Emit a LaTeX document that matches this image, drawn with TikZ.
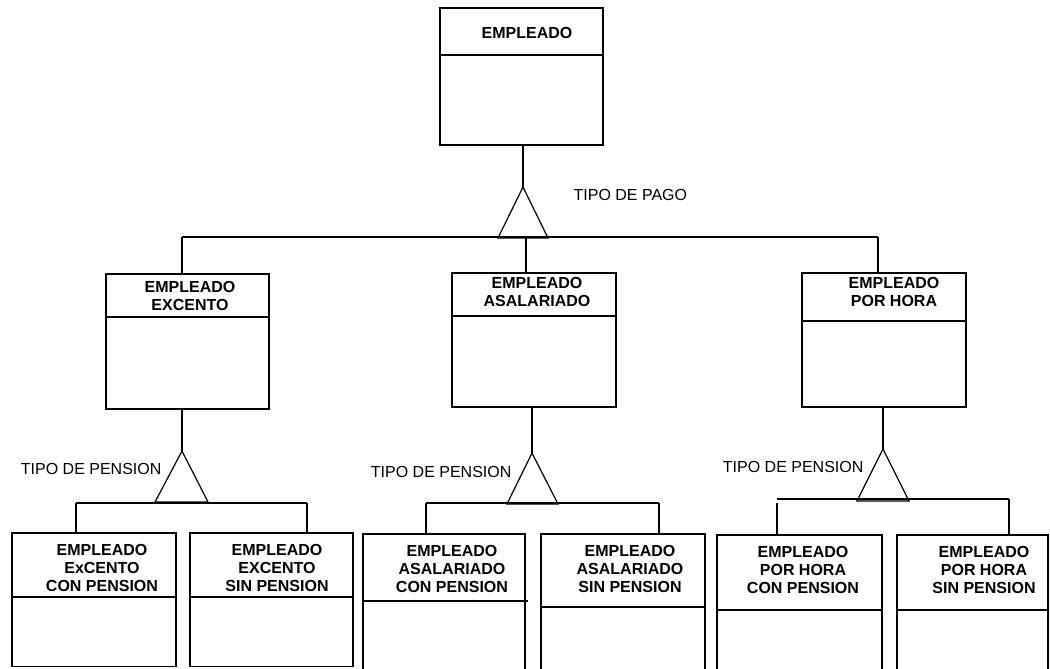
\documentclass[tikz,border=0pt]{standalone}
\usepackage{fontspec}
\setmainfont{Liberation Sans}
\usetikzlibrary{fit}
\begin{document}
\begin{tikzpicture}[x=0.75pt,y=-0.75pt,line width=0.9pt,
  classbox/.style={draw, inner sep=0pt},
  classname/.style={font=\bfseries\fontsize{12}{13.5}\selectfont, align=center, inner sep=0pt},
  gentext/.style={font=\fontsize{12}{13.5}\selectfont, inner sep=0pt},
  divider/.style={line width=0.9pt},
  gen/.style={line width=0.9pt, line join=miter},
]
\useasboundingbox (0,0) rectangle (1050,668);
\clip (0,0) rectangle (1050,668);

% ---- root class ----
\node[classbox, fit={(440,8) (603,145)}] (emp) {};
\draw[divider] (emp.west |- 0,55) -- (emp.east |- 0,55);
\node[classname] (emp-t) at (527,33) {EMPLEADO};

% ---- second level ----
\node[classbox, fit={(106,274) (269,409)}] (exc) {};
\draw[divider] (exc.west |- 0,317) -- (exc.east |- 0,317);
\node[classname] (exc-t) at (190,296) {EMPLEADO\\EXCENTO};

\node[classbox, fit={(452,273) (616,407)}] (asa) {};
\draw[divider] (asa.west |- 0,316) -- (asa.east |- 0,316);
\node[classname] (asa-t) at (537,292) {EMPLEADO\\ASALARIADO};

\node[classbox, fit={(802,273) (966,407)}] (hor) {};
\draw[divider] (hor.west |- 0,321) -- (hor.east |- 0,321);
\node[classname] (hor-t) at (894,292) {EMPLEADO\\POR HORA};

% ---- third level ----
\node[classbox, fit={(12,533) (176,666.5)}] (exccon) {};
\draw[divider] (exccon.west |- 0,597) -- (exccon.east |- 0,597);
\node[classname] (exccon-t) at (102,568) {EMPLEADO\\ExCENTO\\CON PENSION};

\node[classbox, fit={(190,533) (353,666.5)}] (excsin) {};
\draw[divider] (excsin.west |- 0,597) -- (excsin.east |- 0,597);
\node[classname] (excsin-t) at (277,568) {EMPLEADO\\EXCENTO\\SIN PENSION};

\node[classbox, fit={(363,534) (525,700)}] (asacon) {};
\draw[divider] (asacon.west |- 0,601) -- ([xshift=1.5pt]asacon.east |- 0,601);
\node[classname] (asacon-t) at (452,569) {EMPLEADO\\ASALARIADO\\CON PENSION};

\node[classbox, fit={(541,534) (705,700)}] (asasin) {};
\draw[divider] (asasin.west |- 0,607) -- (asasin.east |- 0,607);
\node[classname] (asasin-t) at (630,569) {EMPLEADO\\ASALARIADO\\SIN PENSION};

\node[classbox, fit={(717,535) (882,700)}] (horcon) {};
\draw[divider] (horcon.west |- 0,610) -- (horcon.east |- 0,610);
\node[classname] (horcon-t) at (803,570) {EMPLEADO\\POR HORA\\CON PENSION};

\node[classbox, fit={(897,535) (1048,700)}] (horsin) {};
\draw[divider] (horsin.west |- 0,610) -- (horsin.east |- 0,610);
\node[classname] (horsin-t) at (984,570) {EMPLEADO\\POR HORA\\SIN PENSION};

% ---- generalisation: TIPO DE PAGO ----
\coordinate (g0) at (523,187);
\coordinate (g0l) at (182,237);
\coordinate (g0r) at (878,237);
\draw[gen] (g0) -- ++(-25,51) -- ++(50,0) -- cycle;
\draw (emp.south -| g0) -- (g0);
\draw (g0l) -- (g0r);
\draw (g0l) -- (g0l |- exc.north);
\draw (526,237) -- (526,0 |- asa.north);
\draw (g0r) -- (g0r |- hor.north);
\node[gentext, anchor=west] (pago) at (573,195) {TIPO DE PAGO};

% ---- generalisation: pension of EXCENTO ----
\coordinate (g1) at (182,451);
\coordinate (g1l) at (76,503);
\coordinate (g1r) at (307,503);
\draw[gen] (g1) -- ++(-27,51) -- ++(53,0) -- cycle;
\draw (exc.south -| g1) -- (g1);
\draw (g1l) -- (g1r);
\draw (g1l) -- (g1l |- exccon.north);
\draw (g1r) -- (g1r |- excsin.north);
\node[gentext, anchor=east] (pen1) at (162,469) {TIPO DE PENSION};

% ---- generalisation: pension of ASALARIADO ----
\coordinate (g2) at (532,453);
\coordinate (g2l) at (426,503);
\coordinate (g2r) at (659,503);
\draw[gen] (g2) -- ++(-25,51) -- ++(51,0) -- cycle;
\draw (asa.south -| g2) -- (g2);
\draw (g2l) -- (g2r);
\draw (g2l) -- (g2l |- asacon.north);
\draw (g2r) -- (g2r |- asasin.north);
\node[gentext, anchor=east] (pen2) at (512,472) {TIPO DE PENSION};

% ---- generalisation: pension of POR HORA ----
\coordinate (g3) at (883,449);
\coordinate (g3l) at (777,499);
\coordinate (g3r) at (1009,499);
\draw[gen] (g3) -- ++(-26,52) -- ++(52,0) -- cycle;
\draw (hor.south -| g3) -- (g3);
\draw (g3l) -- (g3r);
\draw (777,503) -- (777,0 |- horcon.north);
\draw (g3r) -- (g3r |- horsin.north);
\node[gentext, anchor=east] (pen3) at (864,467) {TIPO DE PENSION};
\end{tikzpicture}
\end{document}
